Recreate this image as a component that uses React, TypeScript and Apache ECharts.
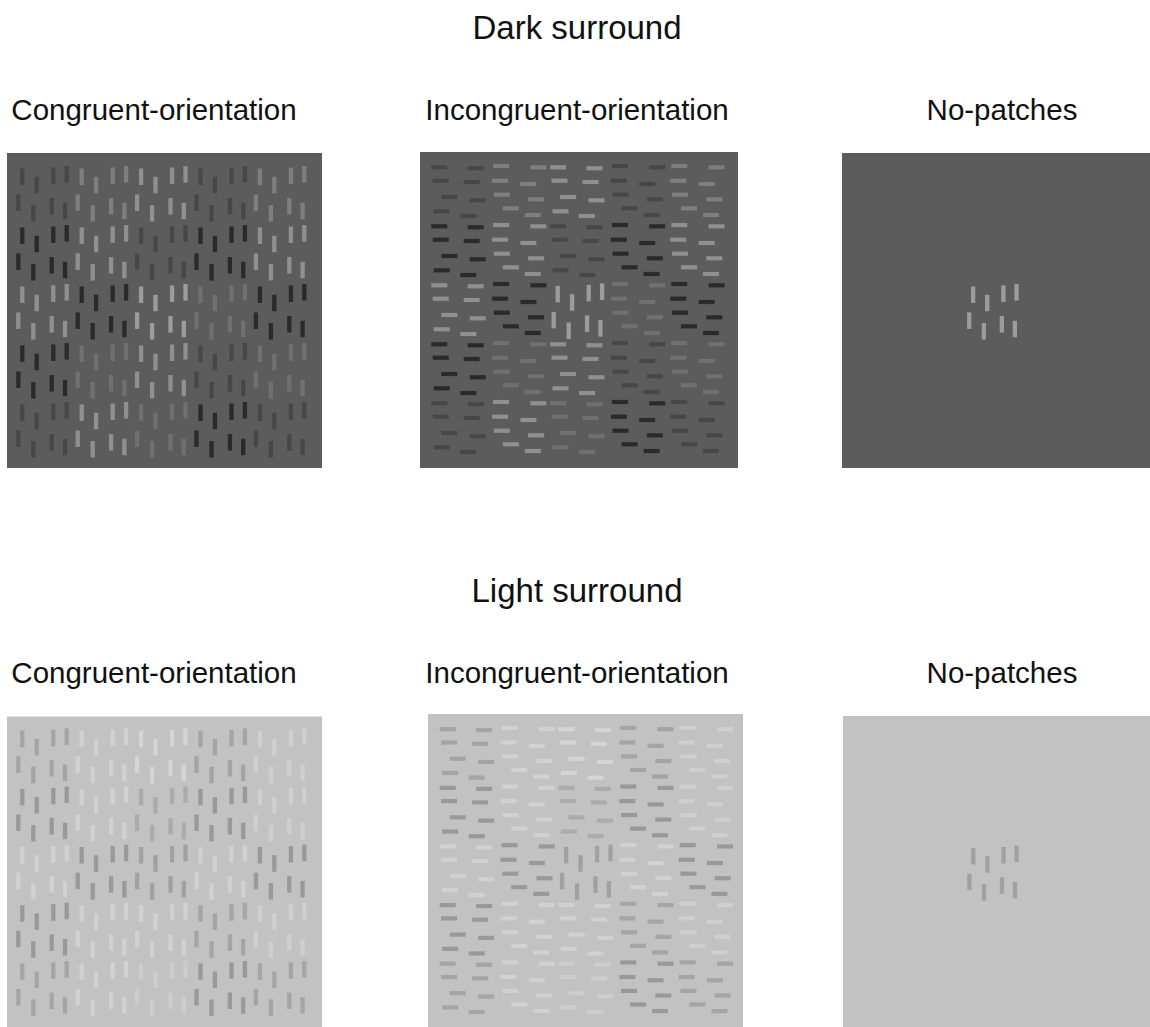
import React, { useEffect, useRef } from "react";
import * as echarts from "echarts";

// ---- data ----
const sectionTitles = ["Dark surround", "Light surround"];
const conditionLabels = ["Congruent-orientation", "Incongruent-orientation", "No-patches"];

// patch lattice (5 x 5 patches of 8 bars)
const patchRows = 5;
const patchCols = 5;
const patchPitchX = 59.4;
const patchPitchY = 59;
const centerPatch = [2, 2];

// vertical-bar patch template: bar centres inside patch (0,0), px from panel origin
const verticalTemplateX = [15.3, 29.7, 46.3, 59.7, 11.3, 26.3, 44.7, 58];
const verticalTemplateY = [23.7, 32, 22.7, 21.3, 49.7, 60.3, 53.3, 58];

// horizontal-bar patch templates (two layouts alternate across patch columns)
const horizTemplateAX = [15.7, 17.1, 25.7, 18.1, 52.1, 48.1, 54.1, 44.7];
const horizTemplateAY = [14.9, 28.3, 44.6, 58.9, 15.9, 29.6, 47.9, 63.6];
const horizTemplateBX = [18.1, 17.1, 18.8, 27.8, 55.4, 45.4, 53.1, 49.8];
const horizTemplateBY = [13.6, 28.3, 42.3, 55.9, 14.9, 31.6, 46.9, 62.6];
const horizTemplateByColumn = ["A", "B", "A", "B", "B"];

// grey level (0-255) of the bars in each patch
const darkSurroundLevels = [
  [66, 135, 158, 66, 135],
  [30, 158, 66, 30, 158],
  [158, 30, 172, 118, 30],
  [30, 118, 158, 66, 118],
  [66, 158, 118, 30, 66],
];
const lightSurroundLevels = [
  [156, 212, 218, 156, 210],
  [143, 212, 165, 143, 210],
  [212, 143, 152, 212, 143],
  [143, 212, 212, 158, 210],
  [158, 212, 208, 143, 158],
];
const darkBackground = 92;
const lightBackground = 194;

// ---- layout ----
const VBAR = [4.3, 16.5];
const HBAR = [16, 4.2];

type Panel = {
  left: number; top: number; w: number; h: number; ox: number; oy: number;
  kind: "congruent" | "incongruent" | "none"; surround: "dark" | "light";
};

const panels: Panel[] = [
  { left: 7, top: 153, w: 315, h: 315, ox: 0, oy: 0, kind: "congruent", surround: "dark" },
  { left: 420, top: 152, w: 318, h: 316, ox: 3.6, oy: 0.4, kind: "incongruent", surround: "dark" },
  { left: 842, top: 153, w: 315, h: 315, ox: 0, oy: 0, kind: "none", surround: "dark" },
  { left: 7, top: 716.5, w: 315, h: 315, ox: 0, oy: -0.9, kind: "congruent", surround: "light" },
  { left: 428, top: 714, w: 315, h: 315, ox: 4, oy: 0.4, kind: "incongruent", surround: "light" },
  { left: 843, top: 716, w: 315, h: 315, ox: -0.4, oy: 0.4, kind: "none", surround: "light" },
];

const grey = (v: number) => `rgb(${v},${v},${v})`;

function panelData(p: Panel) {
  const levels = p.surround === "dark" ? darkSurroundLevels : lightSurroundLevels;
  const out: any[] = [];
  for (let r = 0; r < patchRows; r++) {
    for (let c = 0; c < patchCols; c++) {
      const isCenter = r === centerPatch[0] && c === centerPatch[1];
      if (p.kind === "none" && !isCenter) continue;
      const vertical = p.kind !== "incongruent" || isCenter;
      let tx = verticalTemplateX, ty = verticalTemplateY;
      if (!vertical) {
        const t = horizTemplateByColumn[c];
        tx = t === "A" ? horizTemplateAX : horizTemplateBX;
        ty = t === "A" ? horizTemplateAY : horizTemplateBY;
      }
      for (let i = 0; i < tx.length; i++) {
        out.push({
          value: [tx[i] + c * patchPitchX, ty[i] + r * patchPitchY],
          symbolSize: vertical ? VBAR : HBAR,
          itemStyle: { color: grey(levels[r][c]) },
        });
      }
    }
  }
  return out;
}

export default function App() {
  const ref = useRef<HTMLDivElement>(null);
  useEffect(() => {
    if (!ref.current) return;
    const chart = echarts.init(ref.current, null, { renderer: "svg" });
    const font = '"Liberation Sans", Arial, Helvetica, sans-serif';
    const rowOffset = 563;
    const graphics: any[] = [];
    sectionTitles.forEach((t, i) => {
      graphics.push({
        type: "text",
        x: 577,
        y: 27 + i * rowOffset,
        style: { text: t, fill: "#111", font: `33px ${font}`, textAlign: "center", textVerticalAlign: "middle" },
      });
      const labelX = [154, 577, 1002];
      conditionLabels.forEach((l, j) => {
        graphics.push({
          type: "text",
          x: labelX[j],
          y: 109 + i * rowOffset,
          style: { text: l, fill: "#111", font: `29.5px ${font}`, textAlign: "center", textVerticalAlign: "middle" },
        });
      });
    });

    chart.setOption({
      animation: false,
      backgroundColor: "#ffffff",
      grid: panels.map((p) => ({
        left: p.left, top: p.top, width: p.w, height: p.h,
        show: true, borderWidth: 0,
        backgroundColor: grey(p.surround === "dark" ? darkBackground : lightBackground),
      })),
      xAxis: panels.map((p, i) => ({ type: "value", gridIndex: i, min: -p.ox, max: p.w - p.ox, show: false })),
      yAxis: panels.map((p, i) => ({ type: "value", gridIndex: i, min: -p.oy, max: p.h - p.oy, inverse: true, show: false })),
      series: panels.map((p, i) => ({
        type: "scatter",
        xAxisIndex: i,
        yAxisIndex: i,
        symbol: "rect",
        silent: true,
        data: panelData(p),
      })),
      graphic: graphics,
    });
    return () => chart.dispose();
  }, []);
  return (
    <div
      ref={ref}
      style={{ position: "absolute", left: 0, top: 0, width: 1150, height: 1027 }}
    />
  );
}
